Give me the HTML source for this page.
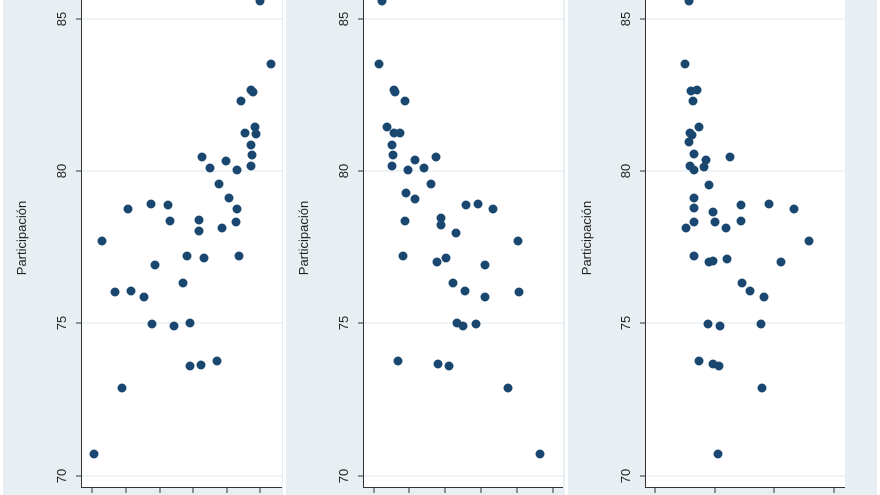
<!DOCTYPE html>
<html><head><meta charset="utf-8"><style>
html,body{margin:0;padding:0;background:#fff;}
svg{display:block;font-family:"Liberation Sans",sans-serif;}
</style></head><body>
<svg width="880" height="495" viewBox="0 0 880 495" xmlns="http://www.w3.org/2000/svg">
<rect x="0" y="0" width="880" height="495" fill="#fff"/>
<rect x="3" y="0" width="280" height="495" fill="#e8eff3"/>
<rect x="286" y="0" width="279" height="495" fill="#e8eff3"/>
<rect x="568" y="0" width="309" height="495" fill="#e8eff3"/>
<!-- plot areas -->
<rect x="82" y="0" width="200" height="487" fill="#fff"/>
<rect x="364" y="0" width="199" height="487" fill="#fff"/>
<rect x="646" y="0" width="199" height="487" fill="#fff"/>
<g stroke="#eaf2f3" stroke-width="1.5">
<line x1="82" x2="282" y1="19" y2="19"/><line x1="82" x2="282" y1="171" y2="171"/><line x1="82" x2="282" y1="323" y2="323"/><line x1="82" x2="282" y1="476" y2="476"/>
<line x1="364" x2="563" y1="19" y2="19"/><line x1="364" x2="563" y1="171" y2="171"/><line x1="364" x2="563" y1="323" y2="323"/><line x1="364" x2="563" y1="476" y2="476"/>
<line x1="646" x2="845" y1="19" y2="19"/><line x1="646" x2="845" y1="171" y2="171"/><line x1="646" x2="845" y1="323" y2="323"/><line x1="646" x2="845" y1="476" y2="476"/>
</g>
<g stroke="#333" stroke-width="1" fill="none">
<path d="M81.5 0V487.5H282"/><path d="M363.5 0V487.5H563"/><path d="M645.5 0V487.5H845"/>
<path d="M76 19h5M76 171h5M76 323h5M76 476h5"/>
<path d="M358 19h5M358 171h5M358 323h5M358 476h5"/>
<path d="M640 19h5M640 171h5M640 323h5M640 476h5"/>
<path d="M92 488v5M126 488v5M160 488v5M193 488v5M227 488v5M260 488v5"/>
<path d="M374 488v5M409 488v5M445 488v5M481 488v5M517 488v5M553 488v5"/>
<path d="M655 488v5M715 488v5M774 488v5M834 488v5"/>
</g>
<g font-size="13" fill="#222" text-anchor="middle">
<text transform="translate(66,19) rotate(-90)">85</text>
<text transform="translate(66,171) rotate(-90)">80</text>
<text transform="translate(66,323) rotate(-90)">75</text>
<text transform="translate(66,476) rotate(-90)">70</text>
<text transform="translate(348,19) rotate(-90)">85</text>
<text transform="translate(348,171) rotate(-90)">80</text>
<text transform="translate(348,323) rotate(-90)">75</text>
<text transform="translate(348,476) rotate(-90)">70</text>
<text transform="translate(630,19) rotate(-90)">85</text>
<text transform="translate(630,171) rotate(-90)">80</text>
<text transform="translate(630,323) rotate(-90)">75</text>
<text transform="translate(630,476) rotate(-90)">70</text>
<text transform="translate(26,238) rotate(-90)">Participación</text>
<text transform="translate(308,238) rotate(-90)">Participación</text>
<text transform="translate(591,238) rotate(-90)">Participación</text>
</g>
<g fill="#1a476f">
<circle cx="260" cy="1" r="4.5"/><circle cx="271" cy="64" r="4.5"/><circle cx="251" cy="90" r="4.5"/><circle cx="253" cy="92" r="4.5"/><circle cx="241" cy="101" r="4.5"/><circle cx="255" cy="127" r="4.5"/><circle cx="245" cy="133" r="4.5"/><circle cx="256" cy="134" r="4.5"/><circle cx="251" cy="145" r="4.5"/><circle cx="252" cy="155" r="4.5"/><circle cx="251" cy="166" r="4.5"/><circle cx="202" cy="157" r="4.5"/><circle cx="210" cy="168" r="4.5"/><circle cx="226" cy="161" r="4.5"/><circle cx="219" cy="184" r="4.5"/><circle cx="237" cy="170" r="4.5"/><circle cx="229" cy="198" r="4.5"/><circle cx="237" cy="209" r="4.5"/><circle cx="199" cy="220" r="4.5"/><circle cx="222" cy="228" r="4.5"/><circle cx="236" cy="222" r="4.5"/><circle cx="199" cy="231" r="4.5"/><circle cx="168" cy="205" r="4.5"/><circle cx="151" cy="204" r="4.5"/><circle cx="170" cy="221" r="4.5"/><circle cx="128" cy="209" r="4.5"/><circle cx="102" cy="241" r="4.5"/><circle cx="204" cy="258" r="4.5"/><circle cx="239" cy="256" r="4.5"/><circle cx="155" cy="265" r="4.5"/><circle cx="187" cy="256" r="4.5"/><circle cx="115" cy="292" r="4.5"/><circle cx="131" cy="291" r="4.5"/><circle cx="144" cy="297" r="4.5"/><circle cx="183" cy="283" r="4.5"/><circle cx="152" cy="324" r="4.5"/><circle cx="174" cy="326" r="4.5"/><circle cx="190" cy="323" r="4.5"/><circle cx="190" cy="366" r="4.5"/><circle cx="201" cy="365" r="4.5"/><circle cx="217" cy="361" r="4.5"/><circle cx="122" cy="388" r="4.5"/><circle cx="94" cy="454" r="4.5"/>

<circle cx="382" cy="1" r="4.5"/><circle cx="379" cy="64" r="4.5"/><circle cx="394" cy="90" r="4.5"/><circle cx="395" cy="92" r="4.5"/><circle cx="405" cy="101" r="4.5"/><circle cx="387" cy="127" r="4.5"/><circle cx="394" cy="133" r="4.5"/><circle cx="400" cy="133" r="4.5"/><circle cx="392" cy="145" r="4.5"/><circle cx="393" cy="155" r="4.5"/><circle cx="392" cy="166" r="4.5"/><circle cx="415" cy="160" r="4.5"/><circle cx="408" cy="170" r="4.5"/><circle cx="424" cy="168" r="4.5"/><circle cx="431" cy="184" r="4.5"/><circle cx="436" cy="157" r="4.5"/><circle cx="406" cy="193" r="4.5"/><circle cx="415" cy="199" r="4.5"/><circle cx="441" cy="218" r="4.5"/><circle cx="405" cy="221" r="4.5"/><circle cx="441" cy="225" r="4.5"/><circle cx="466" cy="205" r="4.5"/><circle cx="478" cy="204" r="4.5"/><circle cx="493" cy="209" r="4.5"/><circle cx="437" cy="262" r="4.5"/><circle cx="456" cy="233" r="4.5"/><circle cx="403" cy="256" r="4.5"/><circle cx="446" cy="258" r="4.5"/><circle cx="485" cy="265" r="4.5"/><circle cx="518" cy="241" r="4.5"/><circle cx="453" cy="283" r="4.5"/><circle cx="519" cy="292" r="4.5"/><circle cx="485" cy="297" r="4.5"/><circle cx="465" cy="291" r="4.5"/><circle cx="457" cy="323" r="4.5"/><circle cx="463" cy="326" r="4.5"/><circle cx="476" cy="324" r="4.5"/><circle cx="398" cy="361" r="4.5"/><circle cx="438" cy="364" r="4.5"/><circle cx="449" cy="366" r="4.5"/><circle cx="508" cy="388" r="4.5"/><circle cx="540" cy="454" r="4.5"/>

<circle cx="689" cy="1" r="4.5"/><circle cx="685" cy="64" r="4.5"/><circle cx="691" cy="91" r="4.5"/><circle cx="697" cy="90" r="4.5"/><circle cx="693" cy="101" r="4.5"/><circle cx="699" cy="127" r="4.5"/><circle cx="690" cy="133" r="4.5"/><circle cx="692" cy="135" r="4.5"/><circle cx="694" cy="154" r="4.5"/><circle cx="689" cy="142" r="4.5"/><circle cx="690" cy="166" r="4.5"/><circle cx="694" cy="170" r="4.5"/><circle cx="704" cy="167" r="4.5"/><circle cx="706" cy="160" r="4.5"/><circle cx="730" cy="157" r="4.5"/><circle cx="709" cy="185" r="4.5"/><circle cx="694" cy="198" r="4.5"/><circle cx="694" cy="208" r="4.5"/><circle cx="694" cy="222" r="4.5"/><circle cx="686" cy="228" r="4.5"/><circle cx="713" cy="212" r="4.5"/><circle cx="741" cy="205" r="4.5"/><circle cx="769" cy="204" r="4.5"/><circle cx="794" cy="209" r="4.5"/><circle cx="715" cy="222" r="4.5"/><circle cx="741" cy="221" r="4.5"/><circle cx="726" cy="228" r="4.5"/><circle cx="694" cy="256" r="4.5"/><circle cx="709" cy="262" r="4.5"/><circle cx="713" cy="261" r="4.5"/><circle cx="727" cy="259" r="4.5"/><circle cx="781" cy="262" r="4.5"/><circle cx="809" cy="241" r="4.5"/><circle cx="742" cy="283" r="4.5"/><circle cx="750" cy="291" r="4.5"/><circle cx="764" cy="297" r="4.5"/><circle cx="708" cy="324" r="4.5"/><circle cx="720" cy="326" r="4.5"/><circle cx="761" cy="324" r="4.5"/><circle cx="699" cy="361" r="4.5"/><circle cx="713" cy="364" r="4.5"/><circle cx="719" cy="366" r="4.5"/><circle cx="762" cy="388" r="4.5"/><circle cx="718" cy="454" r="4.5"/>
</g>
</svg>
</body></html>
